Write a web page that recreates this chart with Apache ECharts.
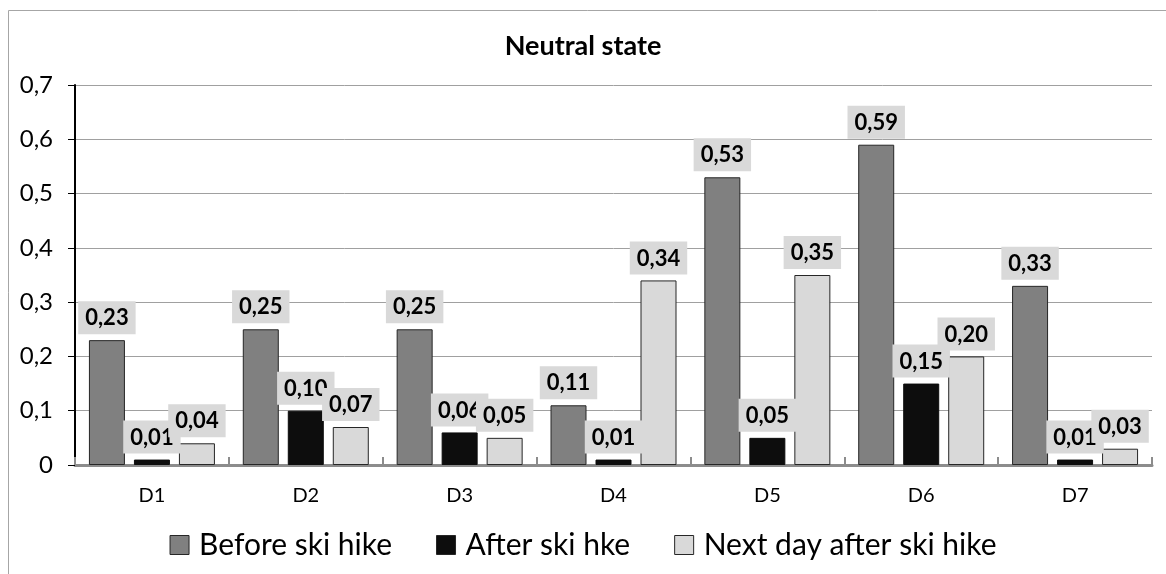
<!DOCTYPE html>
<html>
<head>
<meta charset="utf-8">
<script src="https://cdn.jsdelivr.net/npm/echarts@6/dist/echarts.min.js"></script>
<style>
  html, body { margin: 0; padding: 0; background: #fff; }
  #chart { width: 1166px; height: 574px; }
</style>
</head>
<body>
<div id="chart"></div>
<script>
// data
const categories = ['D1', 'D2', 'D3', 'D4', 'D5', 'D6', 'D7'];
const beforeHike = [0.23, 0.25, 0.25, 0.11, 0.53, 0.59, 0.33];
const afterHike = [0.01, 0.10, 0.06, 0.01, 0.05, 0.15, 0.01];
const nextDay = [0.04, 0.07, 0.05, 0.34, 0.35, 0.20, 0.03];
const seriesNames = ['Before ski hike', 'After ski hke', 'Next day after ski hike'];

const FONT = 'Lato, "Noto Sans", sans-serif';
const comma = v => v.toFixed(2).replace('.', ',');

const chart = echarts.init(document.getElementById('chart'));

// etichetta con riquadro grigio sopra ogni barra
const barLabel = {
  show: true,
  position: 'top',
  distance: 6,
  backgroundColor: '#d9d9d9',
  padding: [6, 7, 5, 7],
  color: '#000',
  fontFamily: FONT,
  fontWeight: 'bold',
  fontSize: 22,
  formatter: p => comma(p.value)
};

function makeSeries(name, data, fill, border) {
  return {
    name: name,
    type: 'bar',
    data: data,
    barWidth: 36,
    barGap: '25%',
    itemStyle: { color: fill, borderColor: border, borderWidth: 1 },
    label: barLabel
  };
}

chart.setOption({
  animation: false,
  textStyle: { fontFamily: FONT },
  graphic: [{
    type: 'rect',
    shape: { x: 8.5, y: 10.5, width: 1300, height: 700 },
    style: { fill: 'none', stroke: '#a6a6a6', lineWidth: 1 },
    silent: true
  }],
  title: {
    text: 'Neutral state',
    left: 'center',
    top: 28,
    textStyle: { fontFamily: FONT, fontWeight: 'bold', fontSize: 27, color: '#000' }
  },
  legend: {
    bottom: 9,
    left: 'center',
    itemWidth: 19,
    itemHeight: 19,
    itemGap: 44,
    icon: 'rect',
    itemStyle: { borderColor: '#262626', borderWidth: 1 },
    textStyle: { fontFamily: FONT, fontSize: 30, color: '#000', padding: [0, 0, 0, 5] },
    data: seriesNames
  },
  grid: { left: 75, right: 14, top: 85, bottom: 109 },
  xAxis: {
    type: 'category',
    data: categories,
    axisLine: { lineStyle: { color: '#8c8c8c', width: 3 } },
    axisTick: { show: true, inside: true, length: 8, lineStyle: { color: '#8c8c8c', width: 2 } },
    axisLabel: { fontFamily: FONT, fontSize: 20, color: '#000', margin: 21 }
  },
  yAxis: {
    type: 'value',
    min: 0,
    max: 0.7,
    interval: 0.1,
    axisLine: { show: true, lineStyle: { color: '#000', width: 2 } },
    axisTick: { show: true, length: 7, lineStyle: { color: '#000' } },
    axisLabel: {
      fontFamily: FONT, fontSize: 24, color: '#000', margin: 22,
      formatter: v => String(Math.round(v * 10) / 10).replace('.', ',')
    },
    splitLine: { lineStyle: { color: '#a0a0a0', width: 1 } }
  },
  series: [
    makeSeries(seriesNames[0], beforeHike, '#808080', '#262626'),
    makeSeries(seriesNames[1], afterHike, '#0d0d0d', '#0d0d0d'),
    makeSeries(seriesNames[2], nextDay, '#d9d9d9', '#262626')
  ]
});
</script>
</body>
</html>
